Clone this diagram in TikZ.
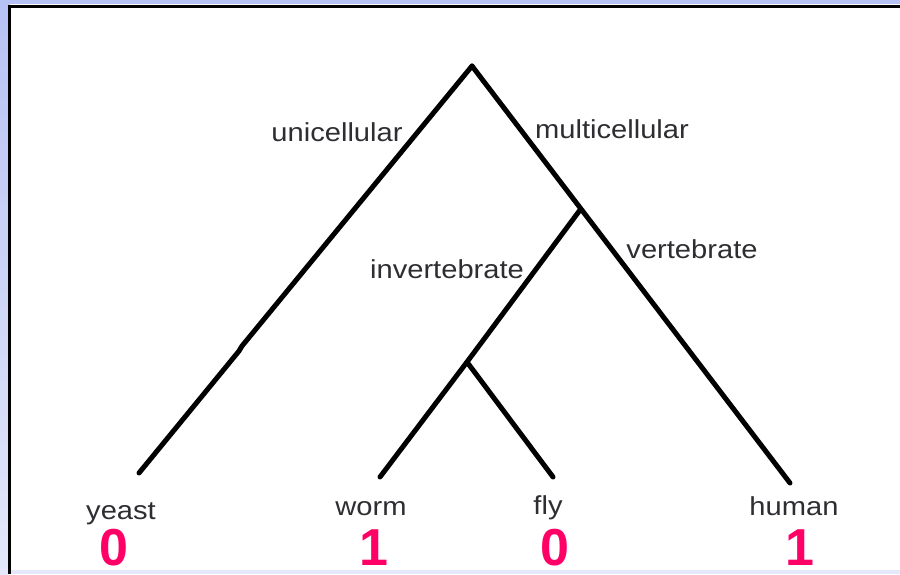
\documentclass[tikz,border=0pt]{standalone}
\usepackage{fontspec}
\setmainfont{Liberation Sans}
\usepackage{graphicx}
\definecolor{lav}{RGB}{182,194,244}
\definecolor{lavlight}{RGB}{228,232,250}
\definecolor{txt}{RGB}{45,45,50}
\definecolor{pinknum}{RGB}{255,0,102}
\tikzset{
  branch/.style={line width=5pt, line cap=round, line join=round, black},
  lab/.style={anchor=base, inner sep=0pt, text=txt, font=\fontsize{26}{30}\selectfont},
  num/.style={anchor=base, inner sep=0pt, text=pinknum, font=\fontsize{52}{58}\selectfont\bfseries},
}
\newcommand{\wide}[1]{\scalebox{1.12}[1]{#1}}
\begin{document}
\begin{tikzpicture}[x=1pt,y=-1pt]
\useasboundingbox (0,0) rectangle (900,574);
% background frame
\fill[lav] (0,0) rectangle (900,574);
\shade[top color=lav, bottom color=lavlight] (0,0) rectangle (9,574);
\fill[lavlight] (9,570) rectangle (900,574);
\fill[white] (10,7) rectangle (900,570);
\fill[white] (10,3.5) rectangle (900,5);
\fill[black] (8,5) rectangle (900,7.5);
\fill[black] (8,5) rectangle (10.5,574);
% tree coordinates
\coordinate (root) at (472,66);
\coordinate (kinkA) at (242,346);
\coordinate (kinkB) at (239,351);
\coordinate (yeast) at (139,473);
\coordinate (multi) at (580,210);
\coordinate (inv) at (467,362);
\coordinate (worm) at (380,477);
\coordinate (fly) at (553,477);
\coordinate (human) at (790,483);
% branches
\draw[branch] (root) -- (kinkA) -- (kinkB) -- (yeast);
\draw[branch] (root) -- (human);
\draw[branch] (multi) -- (inv);
\draw[branch] (inv) -- (worm);
\draw[branch] (inv) -- (fly);
% branch labels
\node[lab] (lunicell) at (337,141) {\wide{unicellular}};
\node[lab] (lmulticell) at (612,138) {\wide{multicellular}};
\node[lab] (linvert) at (447,278) {\wide{invertebrate}};
\node[lab] (lvert) at (692,258) {\wide{vertebrate}};
% leaf labels
\node[lab] (lyeast) at (121,519) {\wide{yeast}};
\node[lab] (lworm) at (371,515) {\wide{worm}};
\node[lab] (lfly) at (548,514) {\wide{fly}};
\node[lab] (lhuman) at (794,515) {\wide{human}};
% numbers
\node[num] (n1) at (114,565) {0};
\node[num] (n2) at (374,565) {1};
\node[num] (n3) at (555,565) {0};
\node[num] (n4) at (800,565) {1};
\end{tikzpicture}
\end{document}
